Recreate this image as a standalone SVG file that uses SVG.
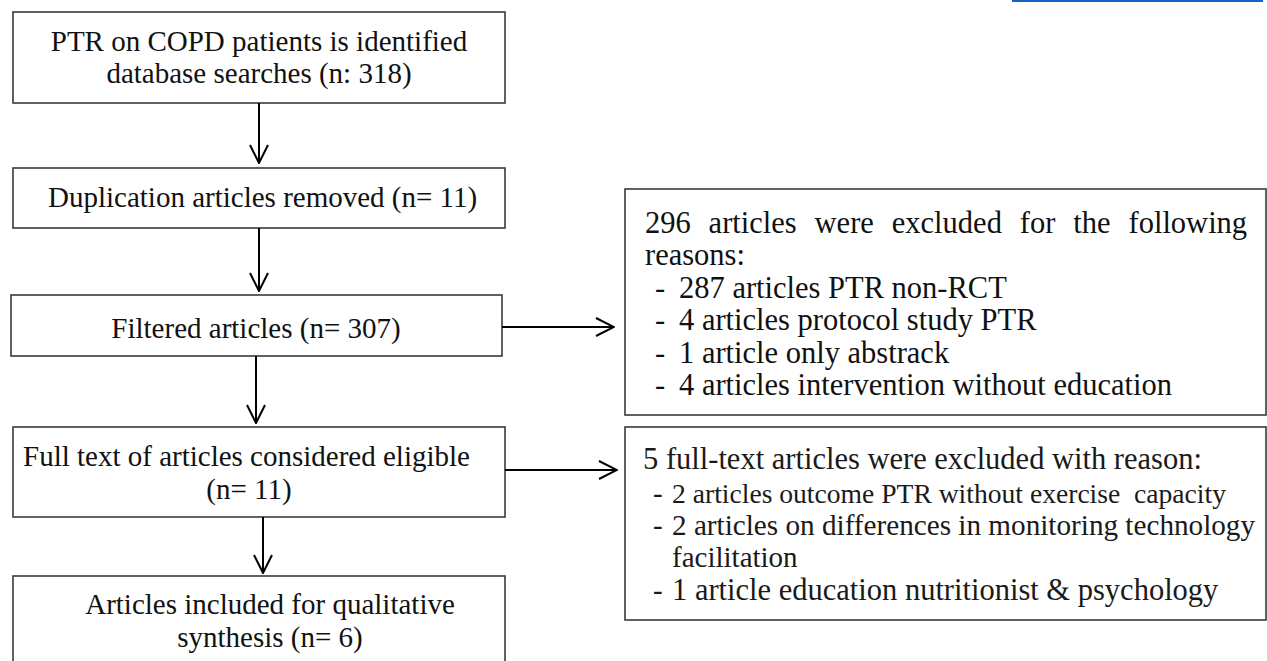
<svg xmlns="http://www.w3.org/2000/svg" width="1267" height="661" viewBox="0 0 1267 661">
<style>
  .box { fill: #ffffff; stroke: #3a3a3a; stroke-width: 1.6; }
  .t { font-family: "Liberation Serif", "Times New Roman", serif; font-size: 29px; fill: #111111; }
  .tr { font-family: "Liberation Serif", "Times New Roman", serif; font-size: 30.5px; fill: #111111; }
  .tb { font-family: "Liberation Serif", "Times New Roman", serif; font-size: 29px; fill: #1a1a1a; }
  .mid { text-anchor: middle; }
  .ln { stroke: #000000; stroke-width: 2; fill: none; }
</style>
<defs>
  <marker id="ah" viewBox="0 0 20 20" refX="19" refY="10" markerWidth="20" markerHeight="20" markerUnits="userSpaceOnUse" orient="auto">
    <path d="M1,1 L19,10 L1,19" fill="none" stroke="#000000" stroke-width="2"/>
  </marker>
</defs>
<rect x="1012" y="0" width="251" height="2" fill="#1565c0"/>
<g id="n1">
  <rect class="box" x="13" y="12" width="492" height="91"/>
  <text class="t mid" x="259" y="51">PTR on COPD patients is identified</text>
  <text class="t mid" x="259" y="83">database searches (n: 318)</text>
</g>
<g id="n2">
  <rect class="box" x="13" y="168" width="492" height="60"/>
  <text class="t" x="48" y="207">Duplication articles removed (n= 11)</text>
</g>
<g id="n3">
  <rect class="box" x="11" y="295" width="491" height="61"/>
  <text class="t mid" x="256" y="338">Filtered articles (n= 307)</text>
</g>
<g id="n4">
  <rect class="box" x="13" y="427" width="492" height="90"/>
  <text class="t" x="23" y="466">Full text of articles considered eligible</text>
  <text class="t mid" x="249" y="499">(n= 11)</text>
</g>
<g id="n5">
  <rect class="box" x="13" y="576" width="492" height="100"/>
  <text class="t mid" x="270" y="614">Articles included for qualitative</text>
  <text class="t mid" x="270" y="647">synthesis (n= 6)</text>
</g>
<g id="n6">
  <rect class="box" x="625" y="189" width="641" height="226"/>
  <text class="tr" y="233"><tspan x="645">296</tspan><tspan x="708.6">articles</tspan><tspan x="814.6">were</tspan><tspan x="891.8">excluded</tspan><tspan x="1019.8">for</tspan><tspan x="1073.3">the</tspan><tspan x="1128.5">following</tspan></text>
  <text class="tr" x="645" y="265">reasons:</text>
  <text class="tr" x="655" y="298">-</text>
  <text class="tr" x="679" y="298">287 articles PTR non-RCT</text>
  <text class="tr" x="655" y="330">-</text>
  <text class="tr" x="679" y="330">4 articles protocol study PTR</text>
  <text class="tr" x="655" y="363">-</text>
  <text class="tr" x="679" y="363">1 article only abstrack</text>
  <text class="tr" x="655" y="395">-</text>
  <text class="tr" x="679" y="395">4 articles intervention without education</text>
</g>
<g id="n7">
  <rect class="box" x="625" y="427" width="641" height="193"/>
  <text class="tb" x="643" y="469" style="font-size:30.5px">5 full-text articles were excluded with reason:</text>
  <text class="tb" x="653" y="503">-</text>
  <text class="tb" x="672" y="503" style="font-size:27.6px" xml:space="preserve">2 articles outcome PTR without exercise  capacity</text>
  <text class="tb" x="653" y="535">-</text>
  <text class="tb" x="672" y="535" style="font-size:29.2px">2 articles on differences in monitoring technology</text>
  <text class="tb" x="672" y="567">facilitation</text>
  <text class="tb" x="653" y="600">-</text>
  <text class="tb" x="672" y="600" style="font-size:30.5px">1 article education nutritionist &amp; psychology</text>
</g>
<g id="connectors">
  <line class="ln" x1="259" y1="103" x2="259" y2="163" marker-end="url(#ah)"/>
  <line class="ln" x1="259" y1="228" x2="259" y2="291" marker-end="url(#ah)"/>
  <line class="ln" x1="256" y1="356" x2="256" y2="423" marker-end="url(#ah)"/>
  <line class="ln" x1="263" y1="517" x2="263" y2="573" marker-end="url(#ah)"/>
  <line class="ln" x1="502" y1="327" x2="614" y2="327" marker-end="url(#ah)"/>
  <line class="ln" x1="505" y1="470" x2="617" y2="470" marker-end="url(#ah)"/>
</g>
</svg>
